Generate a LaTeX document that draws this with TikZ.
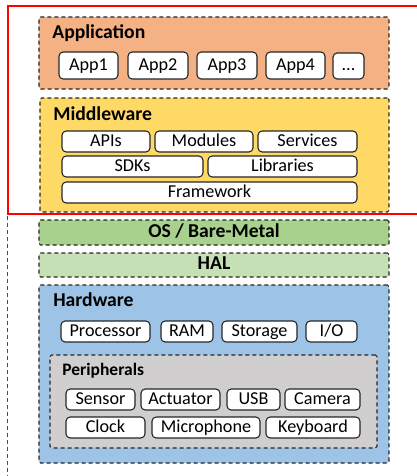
\documentclass[tikz,border=0pt]{standalone}
\usepackage{fontspec}
\setmainfont{Carlito}
\usetikzlibrary{fit}

\definecolor{appfill}{HTML}{F4B183}
\definecolor{midfill}{HTML}{FFD966}
\definecolor{osfill}{HTML}{A9D18E}
\definecolor{halfill}{HTML}{C5E0B4}
\definecolor{hwfill}{HTML}{9DC3E6}
\definecolor{perfill}{HTML}{D0CECE}

\tikzset{
  w/.style={minimum width=#1*0.6pt},
  h/.style={minimum height=#1*0.6pt},
  layer/.style={draw=black!85, dash pattern=on 2.4pt off 1.8pt, line width=0.65pt, rounded corners=1pt, inner sep=0pt},
  band/.style={layer, w=350, font=\bfseries\fontsize{11.8}{14}\selectfont, text height=1.5ex, text depth=.3ex},
  item/.style={draw=black!85, fill=white, line width=0.65pt, rounded corners=2.5pt, inner sep=0pt, h=21,
    font=\fontsize{10.9}{12}\selectfont, text height=1.5ex, text depth=.35ex},
  title/.style={anchor=west, inner sep=0pt, font=\bfseries\fontsize{11.8}{14}\selectfont}
}

\begin{document}
\begin{tikzpicture}[x=0.6pt, y=-0.6pt]
\useasboundingbox (0,0) rectangle (417,476);
\coordinate (F1) at (8,6); \coordinate (F2) at (8,480);
\draw[black!70, dash pattern=on 2.4pt off 1.8pt, line width=0.6pt] (F1)--(F2);

% application layer
\node[layer, fill=appfill, fit={(39,17) (389,89)}] (app) {};
\node[title] (apptitle) at (52,33) {Application};
\node[item, w=59, h=27] (app1) at (88.5,65.5) {App1};
\node[item, w=60, h=27] (app2) at (158,65.5) {App2};
\node[item, w=60, h=27] (app3) at (227,65.5) {App3};
\node[item, w=59, h=27] (app4) at (295.5,65.5) {App4};
\node[item, w=31, h=26] (appmore) at (348.5,66) {...};

% middleware layer
\node[layer, fill=midfill, fit={(40,98) (389,212)}] (mid) {};
\node[title] (midtitle) at (53,114) {Middleware};
\node[item, w=88] (apis) at (106,141.5) {APIs};
\node[item, w=98] (modules) at (204,141.5) {Modules};
\node[item, w=99] (services) at (307.5,141.5) {Services};
\node[item, w=141] (sdks) at (132.5,166.5) {SDKs};
\node[item, w=149] (libs) at (282.5,166.5) {Libraries};
\node[item, w=295] (framework) at (209.5,192.5) {Framework};

% os and hal
\node[band, fill=osfill, h=25] (os) at (214,232.5) {OS / Bare-Metal};
\node[band, fill=halfill, h=24] (hal) at (214,265) {HAL};

% hardware layer
\node[layer, fill=hwfill, fit={(39,285) (389,463)}] (hw) {};
\node[title] (hwtitle) at (53,300) {Hardware};
\node[item, w=89] (cpu) at (105.5,331.5) {Processor};
\node[item, w=52] (ram) at (187,331.5) {RAM};
\node[item, w=75] (storage) at (259.5,331.5) {Storage};
\node[item, w=51] (io) at (331.5,331.5) {I/O};

\node[layer, fill=perfill, fit={(50,355) (377,448)}] (per) {};
\node[title, font=\bfseries\fontsize{10.5}{12}\selectfont] (pertitle) at (62,371) {Peripherals};
\node[item, w=69] (sensor) at (100.5,399.5) {Sensor};
\node[item, w=79] (actuator) at (180.5,399.5) {Actuator};
\node[item, w=53] (usb) at (253.5,399.5) {USB};
\node[item, w=75] (camera) at (322.5,399.5) {Camera};
\node[item, w=79] (clock) at (105.5,427.5) {Clock};
\node[item, w=108] (mic) at (206,427.5) {Microphone};
\node[item, w=94] (keyboard) at (313,427.5) {Keyboard};

% highlight
\coordinate (R1) at (8,6); \coordinate (R2) at (430,214);
\draw[red, line width=1pt] (R1) rectangle (R2);
\end{tikzpicture}
\end{document}
